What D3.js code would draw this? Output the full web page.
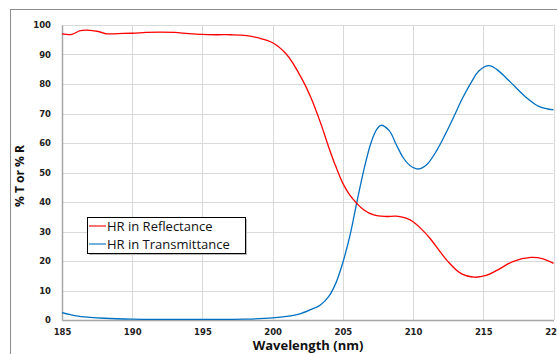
<!DOCTYPE html>
<html>
<head>
<meta charset="utf-8">
<script src="https://cdn.jsdelivr.net/npm/d3@7"></script>
<style>
  body { margin: 0; background: #fff; }
  svg { display: block; }
</style>
</head>
<body>
<div id="chart"></div>
<script>
// wavelength (nm) / reflectance (%)
var reflWl = [185, 185.7, 186.3, 187, 187.6, 188.2, 189, 190, 191, 192, 193, 194, 195, 196, 197, 198, 199, 200,
  201, 202, 202.7, 203.4, 204, 204.5, 205, 205.5, 206, 206.5, 207.2, 208, 208.8, 209.5, 210, 210.6, 211.2, 212.4,
  213.4, 214.4, 215.2, 216, 217.1, 218.4, 219.2, 220];
var reflVal = [97, 96.8, 98.1, 98.2, 97.8, 97, 97.1, 97.2, 97.5, 97.6, 97.5, 97.1, 96.8, 96.7, 96.7, 96.5, 95.6, 94,
  90, 82.5, 75.7, 67, 58.5, 52, 46.3, 42.3, 39.5, 37.3, 35.6, 35.1, 35.2, 34.5, 33.3, 30.8, 27.7, 20.3,
  15.8, 14.5, 15.1, 16.9, 19.8, 21.2, 20.8, 19.2];

// wavelength (nm) / transmittance (%)
var transWl = [185, 186, 187, 188, 190, 192, 195, 198, 200, 201, 202, 203, 203.4, 204, 204.5, 205, 205.5, 206, 206.5, 207, 207.4, 207.7,
  208.3, 208.8, 209.3, 209.8, 210.4, 211, 211.7, 212.3, 212.9, 213.5, 214.1, 214.7, 215.4, 216, 216.9, 218, 219, 220];
var transVal = [2.5, 1.4, 0.9, 0.6, 0.3, 0.2, 0.2, 0.3, 0.7, 1.2, 2.2, 4.1, 5.1, 8, 12.5, 19.5, 28.5, 40, 51, 60, 64.5, 66,
  64.2, 59.5, 55, 52.3, 51.2, 52.8, 57.6, 63, 68.9, 75, 80.2, 84.5, 86.2, 84.8, 80.8, 75.7, 72.3, 71.2];

var xTicks = [185, 190, 195, 200, 205, 210, 215, 220];
var yTicks = [0, 10, 20, 30, 40, 50, 60, 70, 80, 90, 100];
var seriesNames = ["HR in Reflectance", "HR in Transmittance"];
var seriesColors = ["#ff0000", "#0070c0"];

var W = 557, H = 354;
var margin = { top: 25, right: 3.5, bottom: 34, left: 62 };
var width = W - margin.left - margin.right,
  height = H - margin.top - margin.bottom;

var svg = d3.select("#chart").append("svg")
  .attr("width", W)
  .attr("height", H);

// outer chart frame (runs off the right and bottom edge)
svg.append("rect")
  .attr("x", 10.5).attr("y", 9.5)
  .attr("width", 580).attr("height", 380)
  .attr("fill", "none")
  .attr("stroke", "#8c8c8c");

var g = svg.append("g")
  .attr("transform", `translate(${margin.left},${margin.top})`);

var x = d3.scaleLinear().domain([185, 220]).range([0, width]);
var y = d3.scaleLinear().domain([0, 100]).range([height, 0]);

// grid
g.append("g")
  .selectAll("line")
  .data(yTicks)
  .join("line")
  .attr("x1", 0).attr("x2", width)
  .attr("y1", d => Math.round(y(d)) + 0.5).attr("y2", d => Math.round(y(d)) + 0.5)
  .attr("stroke", "#d9d9d9");

g.append("g")
  .selectAll("line")
  .data(xTicks)
  .join("line")
  .attr("x1", d => Math.round(x(d)) + 0.5).attr("x2", d => Math.round(x(d)) + 0.5)
  .attr("y1", 0).attr("y2", height)
  .attr("stroke", "#d9d9d9");

// axes
var xAxis = d3.axisBottom(x).tickValues(xTicks).tickSize(0).tickPadding(9);
var yAxis = d3.axisLeft(y).tickValues(yTicks).tickSize(0).tickPadding(11);

g.append("g")
  .attr("class", "x axis")
  .attr("transform", `translate(0,${height})`)
  .call(xAxis);

g.append("g")
  .attr("class", "y axis")
  .call(yAxis);

g.selectAll(".axis path")
  .attr("stroke", "#a6a6a6")
  .attr("stroke-width", 1.5);
g.selectAll(".axis text")
  .attr("font-family", "DejaVu Sans")
  .attr("font-weight", "bold")
  .attr("font-size", "8.5px")
  .attr("fill", "#222");

// lines
var line = d3.line()
  .x(d => x(d[0]))
  .y(d => y(d[1]))
  .curve(d3.curveCatmullRom.alpha(0.5));

var reflData = reflWl.map((w, i) => [w, reflVal[i]]);
var transData = transWl.map((w, i) => [w, transVal[i]]);

g.append("path")
  .attr("class", "line trans")
  .attr("fill", "none")
  .attr("stroke", seriesColors[1])
  .attr("stroke-width", 1.3)
  .attr("d", line(transData));

g.append("path")
  .attr("class", "line refl")
  .attr("fill", "none")
  .attr("stroke", seriesColors[0])
  .attr("stroke-width", 1.3)
  .attr("d", line(reflData));

// axis titles
svg.append("text")
  .attr("transform", "rotate(-90)")
  .attr("x", -176)
  .attr("y", 24)
  .attr("text-anchor", "middle")
  .attr("font-family", "Open Sans")
  .attr("font-weight", "bold")
  .attr("font-size", "12px")
  .attr("fill", "#111")
  .text("% T or % R");

svg.append("text")
  .attr("x", 308)
  .attr("y", 350)
  .attr("text-anchor", "middle")
  .attr("font-family", "Open Sans")
  .attr("font-weight", "bold")
  .attr("font-size", "13px")
  .attr("fill", "#111")
  .text("Wavelength (nm)");

// legend
var legend = svg.append("g").attr("transform", "translate(87,217)");
legend.append("rect")
  .attr("x", 2).attr("y", 2)
  .attr("width", 158).attr("height", 36)
  .attr("fill", "#bbb");
legend.append("rect")
  .attr("x", 0.5).attr("y", 0.5)
  .attr("width", 158).attr("height", 36)
  .attr("fill", "#fff")
  .attr("stroke", "#000");

var item = legend.selectAll(".item")
  .data(seriesNames)
  .join("g")
  .attr("class", "item")
  .attr("transform", (d, i) => `translate(0,${9 + i * 18})`);
item.append("line")
  .attr("x1", 2).attr("x2", 19)
  .attr("y1", 0).attr("y2", 0)
  .attr("stroke", (d, i) => seriesColors[i])
  .attr("stroke-opacity", 0.55)
  .attr("stroke-width", 2);
item.append("text")
  .attr("x", 20)
  .attr("dy", "0.35em")
  .attr("font-family", "Open Sans")
  .attr("font-size", "13px")
  .attr("fill", "#111")
  .text(d => d);
</script>
</body>
</html>
